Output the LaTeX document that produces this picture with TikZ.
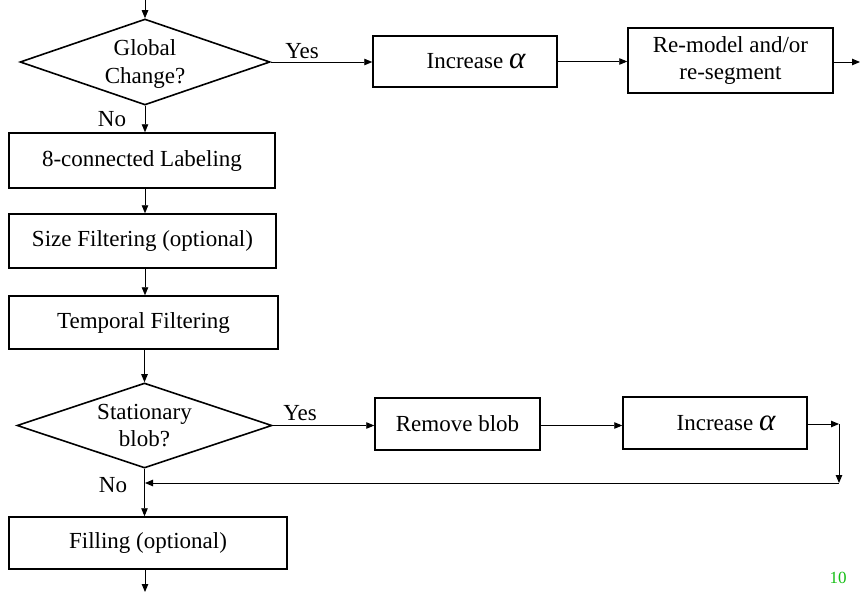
\documentclass[tikz,border=0pt]{standalone}
\usepackage{fontspec}
\setmainfont{Liberation Serif}
\usetikzlibrary{shapes.geometric,arrows.meta}
\definecolor{pagegreen}{RGB}{20,190,20}
\newcommand{\bigalpha}{{\fontsize{31}{31}\selectfont\itshape α}}

\begin{document}
\begin{tikzpicture}[x=1pt, y=-1pt,
	    font=\fontsize{23}{27}\selectfont,
	    box/.style={rectangle, draw, line width=1.5pt, inner sep=0pt, align=center},
	    test/.style={diamond, draw, line width=1.6pt, inner sep=0pt},
	    arr/.style={-{Triangle[length=8pt,width=6.5pt]}, line width=0.9pt}]
	    \useasboundingbox (0,0) rectangle (860,592);

	    \node[test, minimum width=250pt, minimum height=86pt,
	          label={[align=center, font=\fontsize{23}{28}\selectfont, yshift=-2pt]center:Global\\Change?}] (global) at (145,62) {};
	    \node[box, minimum width=184pt, minimum height=51pt] (inc1) at (465,61.5) {\hspace{22pt}Increase \bigalpha};
	    \node[box, minimum width=205pt, minimum height=65pt] (remod) at (730.5,60.5) {Re-model and/or\\re-segment};
	    \node[box, minimum width=266pt, minimum height=55pt] (label) at (142,160.5) {8-connected Labeling};
	    \node[box, minimum width=267pt, minimum height=54pt] (size) at (142.5,241) {Size Filtering (optional)};
	    \node[box, minimum width=269pt, minimum height=53pt] (temp) at (143.5,322.5) {Temporal Filtering};
	    \node[test, minimum width=255pt, minimum height=85pt,
	          label={[align=center, yshift=0pt]center:Stationary\\blob?}] (stat) at (144.5,425.5) {};
	    \node[box, minimum width=165pt, minimum height=52pt] (remove) at (457.5,424) {Remove blob};
	    \node[box, minimum width=184pt, minimum height=52pt] (inc2) at (715,423) {\hspace{22pt}Increase \bigalpha};
	    \node[box, minimum width=278pt, minimum height=52pt] (fill) at (148,543) {Filling (optional)};

	    \node (yes1) at (302,51) {Yes};
	    \node (no1) at (112,119) {No};
	    \node (yes2) at (300,413) {Yes};
	    \node (no2) at (113,485) {No};
	    \node[text=pagegreen, font=\fontsize{17}{17}\selectfont] (page) at (838,578) {10};

	    \coordinate (in) at (145,0);
	    \coordinate (exit) at (860,62);
	    \coordinate (turn) at (839,424);
	    \coordinate (back) at (839,483);
	    \coordinate (merge) at (145,483);
	    \coordinate (out) at (145,592);

	    \draw[arr] (in) -- (global.north);
	    \draw[arr] (global.east) -- (inc1.west |- global.east);
	    \draw[arr] (inc1.east) -- (remod.west |- inc1.east);
	    \draw[arr] (remod.east |- exit) -- (exit);
	    \draw[arr] (global.south) -- (global.south |- label.north);
	    \draw[arr] (global.south |- label.south) -- (global.south |- size.north);
	    \draw[arr] (global.south |- size.south) -- (global.south |- temp.north);
	    \draw[arr] (stat.north |- temp.south) -- (stat.north);
	    \draw[arr] (stat.east) -- (remove.west |- stat.east);
	    \draw[arr] (remove.east |- stat.east) -- (inc2.west |- stat.east);
	    \draw[arr] (inc2.east |- turn) -- (turn);
	    \draw[arr] (turn) -- (back);
	    \draw[arr] (back) -- (merge);
	    \draw[arr] (stat.south) -- (stat.south |- fill.north);
	    \draw[arr] (out |- fill.south) -- (out);
	\end{tikzpicture}
\end{document}
